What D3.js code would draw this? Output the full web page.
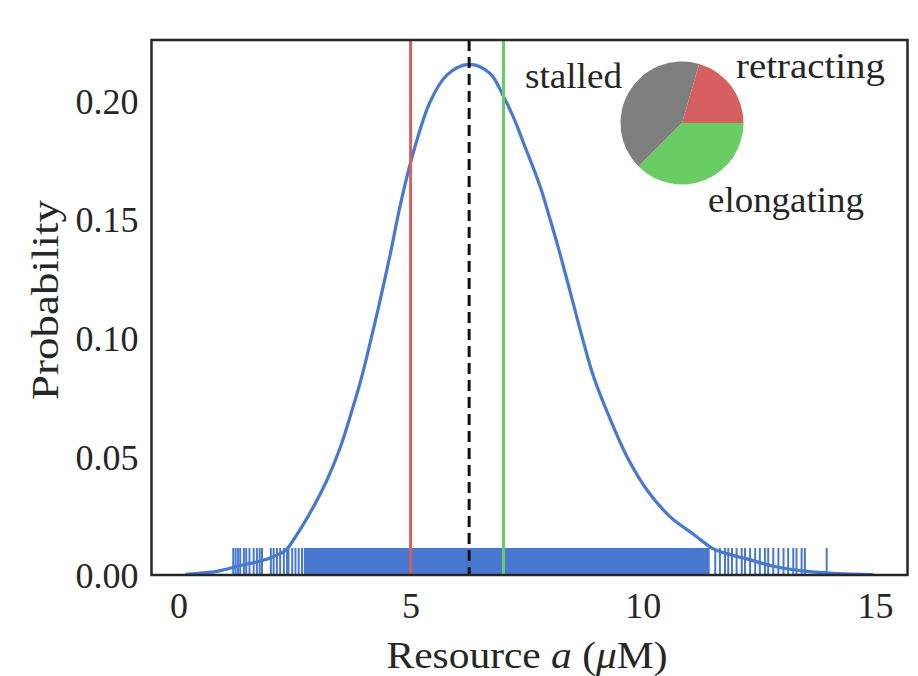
<!DOCTYPE html>
<html>
<head>
<meta charset="utf-8">
<script src="https://cdn.jsdelivr.net/npm/d3@7"></script>
<style>
  body { margin: 0; background: #fff; }
  text { font-family: "Liberation Serif", "DejaVu Serif", serif; fill: #262626; }
</style>
</head>
<body>
<div id="chart"></div>
<script>
// density curve (resource a, probability)
const kdeX = [0.15, 0.6, 0.83, 1.0, 1.33, 1.7, 1.98, 2.3, 2.55, 2.91, 3.2, 3.49, 3.74, 3.92, 4.07, 4.3,
  4.56, 4.78, 5.06, 5.42, 5.78, 6.25, 6.71, 7.0, 7.22, 7.43, 7.8, 8.0, 8.22, 8.48, 8.71, 8.94, 9.3,
  9.66, 10.09, 10.59, 11.09, 11.23, 11.38, 11.52, 11.8, 12.24, 12.81, 13.53, 14.2, 14.96];
const kdeY = [0.0003, 0.001, 0.0015, 0.0023, 0.0040, 0.0056, 0.0072, 0.0103, 0.0170, 0.0288, 0.040, 0.054,
  0.0695, 0.0815, 0.093, 0.112, 0.135, 0.156, 0.178, 0.1993, 0.2105, 0.215, 0.2112, 0.2015, 0.1925, 0.182,
  0.163, 0.150, 0.135, 0.116, 0.099, 0.0835, 0.0655, 0.0498, 0.0358, 0.0245, 0.0172, 0.0150, 0.0128,
  0.0110, 0.0090, 0.0068, 0.0037, 0.0015, 0.0006, 0.0002];

// rug: isolated samples in the tails + the solid dense block in the middle
const rugLow = [1.18, 1.23, 1.28, 1.33, 1.41, 1.46, 1.53, 1.62, 1.69, 1.75, 1.80, 1.99, 2.05, 2.12, 2.19,
  2.27, 2.34, 2.37, 2.45, 2.52, 2.59, 2.66];
const rugHigh = [11.56, 11.66, 11.77, 11.84, 11.92, 12.02, 12.13, 12.20, 12.31, 12.42, 12.52, 12.63, 12.70,
  12.81, 12.92, 13.03, 13.13, 13.24, 13.31, 13.42, 13.49, 13.96];
const rugDense = [2.70, 11.44];

// vertical markers
const markerVals = [5.0, 6.26, 7.0];
const markerNames = ["retracting", "mean", "elongating"];

// pie of states
const pieLabels = ["retracting", "stalled", "elongating"];
const pieValues = [20.5, 42, 37.5];

const xTicks = [0, 5, 10, 15];
const yTicks = [0, 0.05, 0.10, 0.15, 0.20];

const width = 918, height = 676;
const margin = { top: 40, right: 10.5, bottom: 101, left: 151.5 };

const svg = d3.select("#chart").append("svg")
  .attr("width", width)
  .attr("height", height);

const x = d3.scaleLinear().domain([-0.58, 15.70]).range([margin.left, width - margin.right]);
const y = d3.scaleLinear().domain([0, 0.2253]).range([height - margin.bottom, margin.top]);

const blue = "#4878cf";
const colors = { retracting: "#d65f5f", stalled: "#7f7f7f", elongating: "#6acc65", mean: "#111" };

// rug
const rugTop = y(0) - 27;
svg.append("rect")
  .attr("x", x(rugDense[0]))
  .attr("y", rugTop)
  .attr("width", x(rugDense[1]) - x(rugDense[0]))
  .attr("height", y(0) - rugTop)
  .attr("fill", blue);

svg.append("g")
  .selectAll("line")
  .data(rugLow.concat(rugHigh))
  .enter()
  .append("line")
  .attr("x1", d => x(d)).attr("x2", d => x(d))
  .attr("y1", rugTop).attr("y2", y(0))
  .attr("stroke", blue)
  .attr("stroke-width", 2);

// density curve
const line = d3.line()
  .x((d, i) => x(kdeX[i]))
  .y(d => y(d))
  .curve(d3.curveCatmullRom.alpha(0.5));

svg.append("path")
  .datum(kdeY)
  .attr("d", line)
  .attr("fill", "none")
  .attr("stroke", blue)
  .attr("stroke-width", 3.2);

// vertical lines
svg.append("g")
  .selectAll("line")
  .data(markerVals)
  .enter()
  .append("line")
  .attr("x1", d => x(d)).attr("x2", d => x(d))
  .attr("y1", y.range()[1]).attr("y2", y.range()[0])
  .attr("stroke", (d, i) => colors[markerNames[i]])
  .attr("stroke-width", 3)
  .attr("stroke-dasharray", (d, i) => markerNames[i] == "mean" ? "11,6" : null);

// frame
svg.append("rect")
  .attr("x", margin.left)
  .attr("y", margin.top)
  .attr("width", width - margin.left - margin.right)
  .attr("height", height - margin.top - margin.bottom)
  .attr("fill", "none")
  .attr("stroke", "#262626")
  .attr("stroke-width", 2.5);

// axes (no tick marks, just labels)
const xAxis = d3.axisBottom(x).tickValues(xTicks).tickSize(0).tickPadding(17).tickFormat(d3.format("d"));
const yAxis = d3.axisLeft(y).tickValues(yTicks).tickSize(0).tickPadding(13).tickFormat(d3.format(".2f"));

const gx = svg.append("g")
  .attr("transform", `translate(0, ${y(0)})`)
  .call(xAxis);
const gy = svg.append("g")
  .attr("transform", `translate(${margin.left}, 0)`)
  .call(yAxis);

[gx, gy].forEach(g => {
  g.select(".domain").remove();
  g.selectAll("text")
    .attr("font-family", "Liberation Serif, DejaVu Serif, serif")
    .attr("font-size", 36)
    .attr("fill", "#262626");
});
gx.selectAll("text").attr("dy", "0.71em");
gy.selectAll("text").attr("dy", "0.36em");

// axis titles
const xTitle = svg.append("text")
  .attr("x", 527)
  .attr("y", 668)
  .attr("text-anchor", "middle")
  .attr("font-size", 37)
  .attr("textLength", 281)
  .attr("lengthAdjust", "spacingAndGlyphs");
xTitle.append("tspan").text("Resource ");
xTitle.append("tspan").attr("font-style", "italic").text("a");
xTitle.append("tspan").text(" (");
xTitle.append("tspan").attr("font-style", "italic").text("μ");
xTitle.append("tspan").text("M)");

svg.append("text")
  .attr("transform", `translate(58, 300) rotate(-90)`)
  .attr("text-anchor", "middle")
  .attr("font-size", 37)
  .attr("textLength", 200)
  .attr("lengthAdjust", "spacingAndGlyphs")
  .text("Probability");

// pie
const pieCx = 682, pieCy = 123, pieR = 61.5;
const pie = d3.pie()
  .sort(null)
  .startAngle(Math.PI / 2)
  .endAngle(Math.PI / 2 - 2 * Math.PI);
const arc = d3.arc().innerRadius(0).outerRadius(pieR);
const arcs = pie(pieValues);

const pieG = svg.append("g").attr("transform", `translate(${pieCx}, ${pieCy})`);
pieG.selectAll("path")
  .data(arcs)
  .enter()
  .append("path")
  .attr("d", arc)
  .attr("fill", (d, i) => colors[pieLabels[i]]);

// label spots around the pie (offset from its centre) and the widths they take up
const labelPos = [[54, -57], [-60, -47], [26, 77]];
const labelWidth = [149, 97, 156];
pieG.selectAll("text")
  .data(arcs)
  .enter()
  .append("text")
  .attr("x", (d, i) => labelPos[i][0])
  .attr("y", (d, i) => labelPos[i][1])
  .attr("dy", "0.32em")
  .attr("text-anchor", (d, i) => labelPos[i][0] > 0 ? "start" : "end")
  .attr("font-size", 36)
  .attr("textLength", (d, i) => labelWidth[i])
  .attr("lengthAdjust", "spacingAndGlyphs")
  .text((d, i) => pieLabels[i]);
</script>
</body>
</html>
